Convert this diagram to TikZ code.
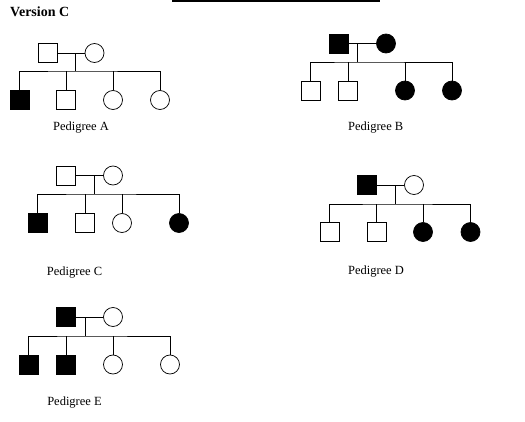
\documentclass[tikz,border=0pt]{standalone}
\usepackage{fontspec}
\setmainfont{Liberation Serif}
\usepackage{tikz}
\usetikzlibrary{positioning, calc}
\tikzset{
    male/.style={rectangle, draw=black, line width=0.75pt, minimum size=19pt, inner sep=0pt},
    female/.style={circle, draw=black, line width=0.75pt, minimum size=19pt, inner sep=0pt},
    aff/.style={fill=black},
    link/.style={line width=0.75pt, draw=black},
    lbl/.style={font=\fontsize{12.5}{15}\selectfont, inner sep=0pt},
    title/.style={font=\fontsize{14}{16}\selectfont\bfseries, inner sep=0pt},
}

\begin{document}
\begin{tikzpicture}[x=1pt, y=-1pt]
\useasboundingbox (0,0) rectangle (525,421);

% Header
\draw[line width=2pt] (172,1) -- (380,1);
\node[title, anchor=base west] (ver) at (10,16.5) {Version C};

% Pedigree A
\node[male] (aF) at (47.5,53) {};
\node[female] (aM) at (94.5,53) {};
\coordinate (aU) at (75.7,53);
\coordinate (aS) at (75.7,71);
\node[male, aff] (a1) at (19.5,100) {};
\node[male] (a2) at (66,100) {};
\node[female] (a3) at (113,100) {};
\node[female] (a4) at (160,100) {};
\draw[link] (aF) -- (aM);
\draw[link] (aU) -- (aS);
\draw[link] (a1) |- (aS) -| (a4);
\draw[link] (a2) -- (a2 |- aS);
\draw[link] (a3) -- (a3 |- aS);
\node[lbl] (aL) at (81,128) {Pedigree A};

% Pedigree B
\node[male, aff] (bF) at (338.5,43.5) {};
\node[female, aff] (bM) at (386,43.5) {};
\coordinate (bU) at (357.7,43.5);
\coordinate (bS) at (357.7,62);
\node[male] (b1) at (310.5,90.5) {};
\node[male] (b2) at (348,90.5) {};
\node[female, aff] (b3) at (405,90.5) {};
\node[female, aff] (b4) at (452,90.5) {};
\draw[link] (bF) -- (bM);
\draw[link] (bU) -- (bS);
\draw[link] (b1) |- (bS) -| (b4);
\draw[link] (b2) -- (b2 |- bS);
\draw[link] (b3) -- (b3 |- bS);
\node[lbl] (bL) at (375.7,128) {Pedigree B};

% Pedigree C
\node[male] (cF) at (66,175.5) {};
\node[female] (cM) at (113,175.5) {};
\coordinate (cU) at (94.3,175.5);
\coordinate (cS) at (94.3,194);
\node[male, aff] (c1) at (37.8,223) {};
\node[male] (c2) at (85,223) {};
\node[female] (c3) at (122,223) {};
\node[female, aff] (c4) at (179,223) {};
\draw[link] (cF) -- (cM);
\draw[link] (cU) -- (cS);
\draw[link] (c1) |- (cS) -| (c4);
\draw[link] (c2) -- (c2 |- cS);
\draw[link] (c3) -- (c3 |- cS);
\node[lbl] (cL) at (74.5,273) {Pedigree C};

% Pedigree D
\node[male, aff] (dF) at (367,185) {};
\node[female] (dM) at (414,185) {};
\coordinate (dU) at (395.3,185);
\coordinate (dS) at (395.3,204);
\node[male] (d1) at (329.5,232) {};
\node[male] (d2) at (376.5,232) {};
\node[female, aff] (d3) at (423,232) {};
\node[female, aff] (d4) at (470.5,232) {};
\draw[link] (dF) -- (dM);
\draw[link] (dU) -- (dS);
\draw[link] (d1) |- (dS) -| (d4);
\draw[link] (d2) -- (d2 |- dS);
\draw[link] (d3) -- (d3 |- dS);
\node[lbl] (dL) at (376,272) {Pedigree D};

% Pedigree E
\node[male, aff] (eF) at (66,317) {};
\node[female] (eM) at (113,317) {};
\coordinate (eU) at (85.3,317);
\coordinate (eS) at (85.3,336);
\node[male, aff] (e1) at (28.5,364.5) {};
\node[male, aff] (e2) at (66,364.5) {};
\node[female] (e3) at (113,364.5) {};
\node[female] (e4) at (170,364.5) {};
\draw[link] (eF) -- (eM);
\draw[link] (eU) -- (eS);
\draw[link] (e1) |- (eS) -| (e4);
\draw[link] (e2) -- (e2 |- eS);
\draw[link] (e3) -- (e3 |- eS);
\node[lbl] (eL) at (74.5,403) {Pedigree E};

\end{tikzpicture}
\end{document}
